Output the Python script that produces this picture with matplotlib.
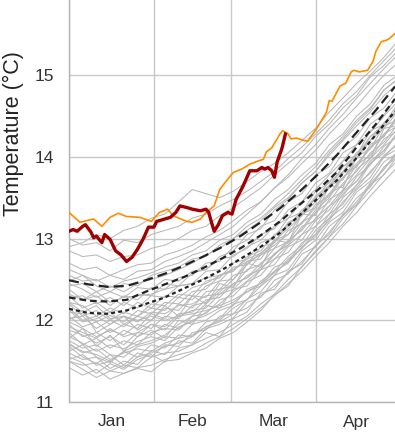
import matplotlib
matplotlib.use("Agg")
import matplotlib.pyplot as plt
from matplotlib.ticker import FixedLocator, NullFormatter, FixedFormatter

plt.rcParams['font.family'] = ['Liberation Sans', 'DejaVu Sans']

# ---- data ----
month_starts = [0, 31, 59, 90]
month_mids = [15.5, 45, 74.5, 105]
month_labels = ['Jan', 'Feb', 'Mar', 'Apr']
y_ticks = [11, 12, 13, 14, 15]

# historical years (gray), sampled every 5 days
gray_days = [0, 5, 10, 15, 20, 25, 30, 35, 40, 45, 50, 55, 60, 65, 70, 75, 80, 85, 90, 95, 100, 105, 110, 115, 120]
gray_lines = [
    [11.42, 11.33, 11.40, 11.28, 11.35, 11.41, 11.37, 11.50, 11.52, 11.60, 11.66, 11.78, 11.85, 11.98, 12.12, 12.31, 12.42, 12.66, 12.83, 13.02, 13.18, 13.40, 13.59, 13.79, 13.96],
    [11.55, 11.48, 11.35, 11.47, 11.40, 11.52, 11.58, 11.49, 11.66, 11.70, 11.85, 11.80, 12.02, 12.10, 12.33, 12.38, 12.60, 12.69, 12.92, 13.05, 13.30, 13.41, 13.66, 13.78, 14.02],
    [11.60, 11.52, 11.55, 11.41, 11.50, 11.46, 11.63, 11.58, 11.75, 11.72, 11.90, 11.95, 12.03, 12.22, 12.28, 12.49, 12.57, 12.81, 12.90, 13.15, 13.28, 13.50, 13.63, 13.88, 14.00],
    [11.68, 11.55, 11.47, 11.58, 11.45, 11.60, 11.55, 11.70, 11.68, 11.85, 11.88, 12.05, 12.08, 12.26, 12.35, 12.55, 12.62, 12.85, 12.98, 13.20, 13.32, 13.57, 13.70, 13.94, 14.05],
    [11.70, 11.62, 11.58, 11.50, 11.62, 11.55, 11.70, 11.66, 11.82, 11.80, 11.98, 12.02, 12.20, 12.25, 12.48, 12.60, 12.78, 12.92, 13.15, 13.30, 13.55, 13.70, 13.92, 14.08, 14.30],
    [11.75, 11.66, 11.70, 11.58, 11.55, 11.68, 11.72, 11.80, 11.78, 11.95, 12.00, 12.12, 12.18, 12.38, 12.45, 12.65, 12.72, 12.95, 13.05, 13.30, 13.42, 13.66, 13.80, 14.02, 14.15],
    [11.80, 11.72, 11.62, 11.70, 11.65, 11.74, 11.80, 11.75, 11.92, 11.98, 12.10, 12.20, 12.35, 12.48, 12.62, 12.80, 12.95, 13.12, 13.35, 13.50, 13.75, 13.88, 14.12, 14.25, 14.50],
    [11.85, 11.70, 11.78, 11.66, 11.75, 11.70, 11.85, 11.90, 11.88, 12.05, 12.08, 12.25, 12.30, 12.47, 12.55, 12.75, 12.83, 13.05, 13.15, 13.40, 13.52, 13.76, 13.90, 14.13, 14.25],
    [11.88, 11.82, 11.72, 11.80, 11.70, 11.85, 11.82, 11.95, 11.90, 12.00, 12.06, 12.15, 12.22, 12.35, 12.42, 12.60, 12.70, 12.90, 13.02, 13.25, 13.38, 13.60, 13.75, 14.00, 14.10],
    [11.95, 11.80, 11.85, 11.75, 11.88, 11.80, 11.95, 11.92, 12.08, 12.10, 12.25, 12.28, 12.45, 12.52, 12.70, 12.80, 12.98, 13.10, 13.32, 13.45, 13.68, 13.82, 14.05, 14.18, 14.40],
    [11.98, 11.90, 11.80, 11.88, 11.82, 11.95, 11.90, 12.05, 12.02, 12.18, 12.22, 12.38, 12.42, 12.62, 12.68, 12.88, 12.96, 13.20, 13.30, 13.55, 13.65, 13.90, 14.02, 14.28, 14.38],
    [12.05, 11.92, 11.98, 11.85, 11.95, 11.90, 12.08, 12.02, 12.20, 12.15, 12.35, 12.38, 12.55, 12.60, 12.80, 12.88, 13.10, 13.18, 13.42, 13.52, 13.80, 13.88, 14.15, 14.25, 14.52],
    [12.02, 12.05, 11.90, 12.00, 11.92, 12.05, 12.00, 12.15, 12.12, 12.30, 12.28, 12.48, 12.50, 12.72, 12.75, 12.98, 13.05, 13.30, 13.38, 13.65, 13.72, 14.00, 14.10, 14.38, 14.45],
    [12.15, 12.00, 12.05, 11.95, 12.05, 11.98, 12.10, 12.08, 12.18, 12.20, 12.30, 12.32, 12.45, 12.52, 12.65, 12.75, 12.92, 13.05, 13.25, 13.40, 13.60, 13.78, 13.98, 14.15, 14.35],
    [12.10, 12.08, 11.98, 12.06, 11.98, 12.12, 12.08, 12.22, 12.20, 12.35, 12.38, 12.55, 12.60, 12.78, 12.85, 13.05, 13.15, 13.35, 13.48, 13.70, 13.82, 14.05, 14.20, 14.42, 14.55],
    [12.20, 12.05, 12.12, 12.00, 12.10, 12.05, 12.20, 12.18, 12.32, 12.30, 12.48, 12.52, 12.70, 12.75, 12.95, 13.02, 13.25, 13.32, 13.58, 13.68, 13.95, 14.02, 14.32, 14.40, 14.65],
    [12.22, 12.18, 12.05, 12.15, 12.08, 12.22, 12.15, 12.30, 12.28, 12.40, 12.45, 12.55, 12.62, 12.75, 12.82, 12.98, 13.12, 13.28, 13.45, 13.62, 13.82, 13.98, 14.20, 14.35, 14.55],
    [12.30, 12.15, 12.22, 12.10, 12.22, 12.15, 12.30, 12.28, 12.42, 12.45, 12.60, 12.62, 12.80, 12.88, 13.05, 13.12, 13.35, 13.45, 13.68, 13.80, 14.05, 14.15, 14.40, 14.52, 14.75],
    [12.28, 12.30, 12.20, 12.28, 12.18, 12.32, 12.30, 12.45, 12.42, 12.58, 12.62, 12.78, 12.85, 13.05, 13.12, 13.35, 13.48, 13.68, 13.82, 14.05, 14.22, 14.42, 14.58, 14.82, 14.95],
    [12.38, 12.25, 12.30, 12.18, 12.30, 12.25, 12.40, 12.38, 12.52, 12.55, 12.70, 12.72, 12.90, 12.98, 13.15, 13.22, 13.45, 13.55, 13.78, 13.88, 14.12, 14.25, 14.48, 14.60, 14.82],
    [12.45, 12.38, 12.28, 12.35, 12.28, 12.40, 12.38, 12.50, 12.48, 12.60, 12.62, 12.75, 12.78, 12.90, 12.98, 13.15, 13.25, 13.45, 13.60, 13.78, 13.95, 14.15, 14.30, 14.50, 14.68],
    [12.42, 12.45, 12.35, 12.42, 12.35, 12.45, 12.50, 12.55, 12.62, 12.70, 12.80, 12.88, 13.00, 13.10, 13.22, 13.38, 13.50, 13.68, 13.82, 14.02, 14.20, 14.38, 14.55, 14.75, 14.90],
    [12.55, 12.48, 12.50, 12.40, 12.48, 12.52, 12.58, 12.65, 12.70, 12.80, 12.85, 12.98, 13.05, 13.20, 13.30, 13.48, 13.60, 13.78, 13.92, 14.15, 14.28, 14.50, 14.65, 14.88, 15.00],
    [12.62, 12.55, 12.48, 12.55, 12.50, 12.60, 12.62, 12.72, 12.78, 12.85, 12.95, 13.05, 13.15, 13.30, 13.45, 13.62, 13.78, 13.98, 14.15, 14.35, 14.52, 14.72, 14.90, 15.08, 15.25],
    [12.70, 12.62, 12.65, 12.55, 12.62, 12.68, 12.70, 12.80, 12.85, 12.92, 13.02, 13.10, 13.22, 13.35, 13.45, 13.62, 13.75, 13.92, 14.08, 14.28, 14.45, 14.62, 14.82, 15.00, 15.15],
    [12.85, 12.78, 12.80, 12.72, 12.78, 12.80, 12.88, 12.92, 13.00, 13.10, 13.15, 13.28, 13.38, 13.50, 13.62, 13.78, 13.92, 14.05, 14.25, 14.40, 14.60, 14.75, 14.98, 15.12, 15.30],
    [13.00, 12.92, 12.95, 12.85, 12.98, 12.95, 13.05, 13.10, 13.15, 13.25, 13.30, 13.40, 13.48, 13.58, 13.70, 13.82, 13.98, 14.12, 14.28, 14.45, 14.65, 14.80, 15.00, 15.18, 15.35],
    [12.90, 12.95, 13.05, 13.00, 13.10, 13.15, 13.25, 13.30, 13.45, 13.60, 13.55, 13.50, 13.58, 13.70, 13.82, 13.92, 14.05, 14.20, 14.35, 14.55, 14.72, 14.90, 15.05, 15.22, 15.42],
    [11.50, 11.40, 11.30, 11.38, 11.45, 11.42, 11.55, 11.60, 11.62, 11.70, 11.78, 11.85, 11.95, 12.05, 12.20, 12.32, 12.50, 12.65, 12.85, 13.02, 13.25, 13.42, 13.65, 13.85, 14.05],
    [11.72, 11.60, 11.65, 11.52, 11.60, 11.65, 11.62, 11.72, 11.78, 11.82, 11.92, 11.98, 12.08, 12.15, 12.30, 12.42, 12.58, 12.72, 12.90, 13.08, 13.28, 13.45, 13.68, 13.85, 14.08],
    [11.62, 11.70, 11.55, 11.48, 11.62, 11.70, 11.75, 11.82, 11.95, 12.05, 12.20, 12.35, 12.50, 12.68, 12.82, 12.95, 13.18, 13.30, 13.52, 13.65, 13.88, 14.02, 14.25, 14.40, 14.58],
    [12.22, 12.10, 12.18, 12.02, 12.05, 12.00, 12.05, 12.00, 12.05, 12.08, 12.12, 12.18, 12.25, 12.35, 12.45, 12.58, 12.72, 12.88, 13.05, 13.22, 13.45, 13.62, 13.82, 14.00, 14.18],
    [11.78, 11.90, 11.68, 11.82, 11.62, 11.80, 11.88, 11.78, 12.00, 11.95, 12.18, 12.15, 12.38, 12.42, 12.62, 12.68, 12.90, 12.98, 13.22, 13.35, 13.58, 13.70, 13.95, 14.08, 14.30],
    [12.12, 11.98, 12.02, 12.10, 11.95, 12.05, 12.15, 12.12, 12.28, 12.25, 12.42, 12.48, 12.65, 12.68, 12.90, 12.95, 13.20, 13.28, 13.50, 13.62, 13.88, 13.98, 14.25, 14.38, 14.60],
    [11.52, 11.58, 11.45, 11.50, 11.42, 11.55, 11.60, 11.68, 11.72, 11.80, 11.92, 12.00, 12.15, 12.25, 12.42, 12.55, 12.75, 12.88, 13.10, 13.25, 13.50, 13.65, 13.92, 14.05, 14.30],
    [12.32, 12.25, 12.35, 12.22, 12.28, 12.30, 12.32, 12.38, 12.42, 12.45, 12.52, 12.55, 12.62, 12.72, 12.80, 12.92, 13.05, 13.20, 13.38, 13.55, 13.75, 13.92, 14.10, 14.28, 14.45],
    [11.92, 11.85, 11.78, 11.90, 11.80, 11.85, 11.95, 11.88, 12.05, 12.12, 12.15, 12.32, 12.38, 12.55, 12.62, 12.82, 12.92, 13.15, 13.22, 13.48, 13.58, 13.85, 13.98, 14.22, 14.32],
    [12.48, 12.55, 12.42, 12.35, 12.45, 12.42, 12.55, 12.60, 12.65, 12.75, 12.78, 12.92, 13.00, 13.15, 13.25, 13.40, 13.55, 13.72, 13.88, 14.08, 14.25, 14.45, 14.60, 14.82, 14.95],
    [11.50, 11.45, 11.48, 11.38, 11.35, 11.42, 11.45, 11.52, 11.58, 11.62, 11.72, 11.80, 11.90, 12.02, 12.15, 12.30, 12.45, 12.60, 12.78, 12.95, 13.15, 13.32, 13.52, 13.70, 13.88],
    [12.00, 12.12, 11.85, 11.95, 12.05, 11.88, 12.00, 12.18, 12.05, 12.30, 12.20, 12.45, 12.40, 12.70, 12.65, 12.98, 12.95, 13.30, 13.28, 13.65, 13.62, 14.00, 13.98, 14.35, 14.38],
]

# climatological averages (dashed), sampled weekly
avg_days = [0, 7, 14, 21, 28, 35, 42, 49, 56, 63, 70, 77, 84, 91, 98, 105, 112, 119]
avg_long = [12.49, 12.44, 12.41, 12.42, 12.49, 12.57, 12.67, 12.78, 12.90, 13.04, 13.20, 13.37, 13.57, 13.79, 14.03, 14.30, 14.57, 14.86]
avg_medium = [12.28, 12.24, 12.23, 12.25, 12.35, 12.44, 12.53, 12.64, 12.76, 12.89, 13.04, 13.21, 13.41, 13.60, 13.82, 14.12, 14.40, 14.71]
avg_short = [12.14, 12.09, 12.08, 12.12, 12.20, 12.28, 12.39, 12.50, 12.62, 12.76, 12.90, 13.07, 13.28, 13.50, 13.72, 13.99, 14.27, 14.56]

# record year (orange)
rec_days = [0, 4, 9, 12, 15, 18, 21, 26, 30, 33, 36, 38, 43, 45, 48, 50, 53, 55, 58, 60, 63, 66, 69, 71, 72, 74,
            77, 78, 80, 81, 83, 87, 89, 91, 93, 94, 95, 96, 99, 101, 103, 104, 106, 109, 111, 112, 114, 116, 117, 119]
rec_vals = [13.32, 13.20, 13.24, 13.15, 13.26, 13.31, 13.27, 13.26, 13.21, 13.32, 13.36, 13.28, 13.21, 13.20, 13.24,
            13.32, 13.40, 13.60, 13.73, 13.81, 13.85, 13.91, 13.95, 13.97, 14.06, 14.11, 14.28, 14.32, 14.28, 14.22,
            14.23, 14.19, 14.28, 14.38, 14.49, 14.55, 14.69, 14.68, 14.87, 14.90, 15.04, 15.06, 15.04, 15.06, 15.17,
            15.29, 15.41, 15.43, 15.45, 15.51]

# current year (dark red)
cur_days = [0, 1.5, 3, 5, 6, 8, 9, 10, 12, 13, 15, 17, 19, 21, 23, 25, 27, 29, 31, 32, 34, 37, 39, 40.5, 43, 45,
            48, 50, 51, 52, 53, 54.5, 56, 58, 59.5, 61, 63.5, 66, 68.6, 70.4, 71.5, 72.6, 74, 75, 76, 77.7, 79]
cur_vals = [13.09, 13.11, 13.09, 13.15, 13.17, 13.08, 13.01, 13.03, 12.95, 13.05, 12.99, 12.85, 12.80, 12.72, 12.77,
            12.87, 12.99, 13.14, 13.14, 13.21, 13.23, 13.26, 13.32, 13.40, 13.38, 13.36, 13.34, 13.36, 13.32, 13.20,
            13.09, 13.17, 13.28, 13.32, 13.30, 13.48, 13.64, 13.83, 13.83, 13.87, 13.85, 13.87, 13.83, 13.75, 13.94,
            14.10, 14.28]

# ---- figure ----
fig = plt.figure(figsize=(3.95, 4.32), dpi=100)
ax = fig.add_axes([69 / 395, 30 / 432, 326 / 395, 402 / 432])

for line in gray_lines:
    ax.plot(gray_days, line, color='#b8b8b8', lw=0.75, zorder=2)

ax.plot(avg_days, avg_long, color='#222222', lw=1.6, ls=(0, (4.5, 2.3)), zorder=3)
ax.plot(avg_days, avg_medium, color='#222222', lw=1.6, ls=(0, (3.0, 1.8)), zorder=3)
ax.plot(avg_days, avg_short, color='#222222', lw=1.6, ls=(0, (1.8, 1.4)), zorder=3)

ax.plot(rec_days, rec_vals, color='#ff8c00', lw=1.2, zorder=4)
ax.plot(cur_days, cur_vals, color='#a00000', lw=2.4, zorder=5, solid_joinstyle='round')

ax.set_xlim(0, 119)
ax.set_ylim(11, 15.92)

ax.xaxis.set_major_locator(FixedLocator(month_starts))
ax.xaxis.set_major_formatter(NullFormatter())
ax.xaxis.set_minor_locator(FixedLocator(month_mids))
ax.xaxis.set_minor_formatter(FixedFormatter(month_labels))
ax.set_yticks(y_ticks)
ax.set_yticklabels([str(v) for v in y_ticks])

ax.tick_params(axis='both', which='both', length=0, colors='#333333', labelsize=12.5)
ax.tick_params(axis='x', which='minor', pad=9)
ax.tick_params(axis='y', pad=11)
ax.grid(True, which='major', color='#c8c8c8', lw=1.0, zorder=0)
ax.set_axisbelow(True)
for s in ['top', 'right']:
    ax.spines[s].set_visible(False)
for s in ['left', 'bottom']:
    ax.spines[s].set_color('#b4b4b4')
    ax.spines[s].set_linewidth(1.0)

ax.set_ylabel('Temperature (°C)', fontsize=15.5, color='#222222')
ax.yaxis.set_label_coords(-0.138, 0.667)

fig.savefig('out.png', dpi=100)
